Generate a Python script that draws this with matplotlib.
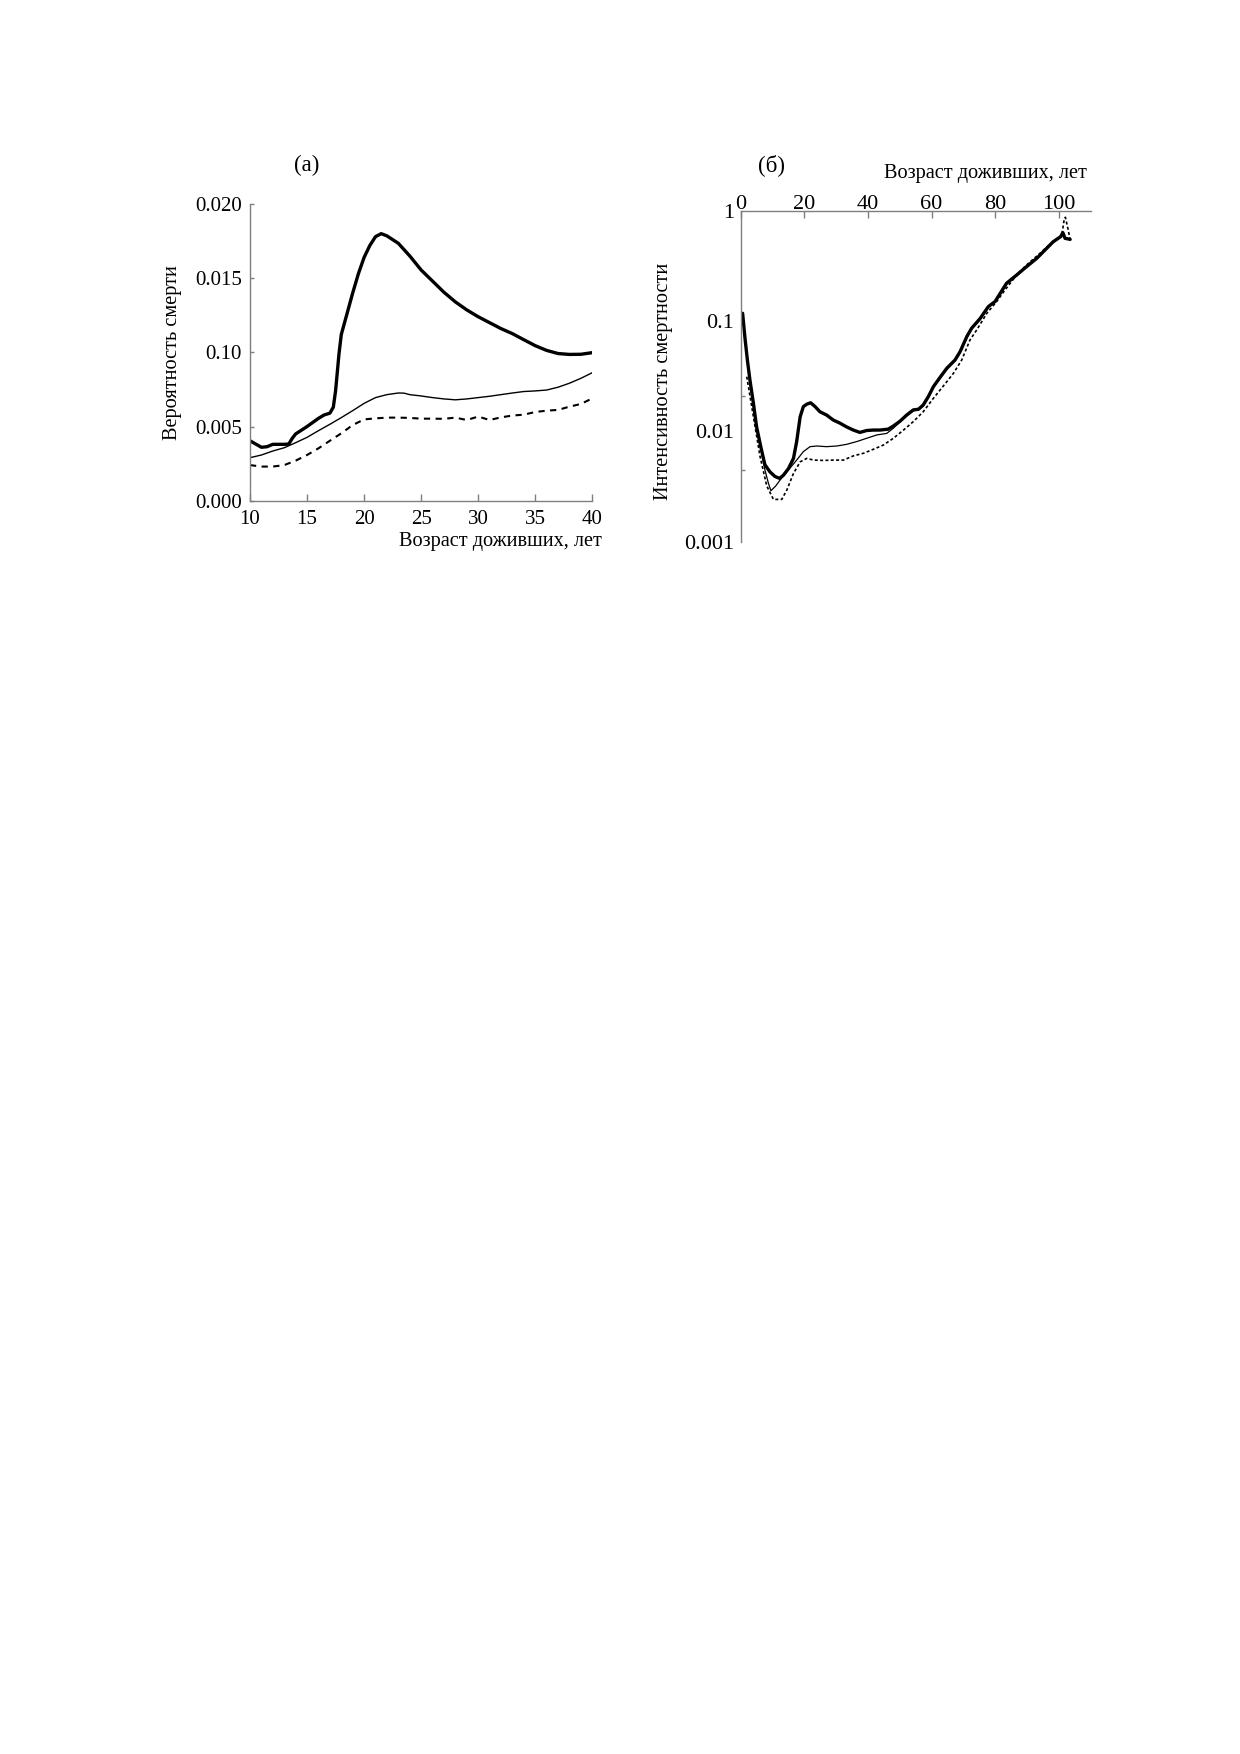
import matplotlib
matplotlib.use("Agg")
import matplotlib.pyplot as plt
from matplotlib.ticker import FixedLocator, NullFormatter

plt.rcParams['font.family'] = ['Liberation Serif', 'DejaVu Serif']
plt.rcParams['font.size'] = 14.6

# ---- panel (а): probability of death, ages 10-40 ----
age_a_thick = [10, 10.5, 11, 11.5, 12, 13, 13.4, 13.7, 14, 15, 16, 16.5, 17, 17.3, 17.5, 17.8,
               18, 18.5, 19, 19.5, 20, 20.5, 21, 21.5, 22, 23, 24, 25, 26, 27, 28, 29, 30,
               31, 32, 33, 34, 35, 36, 37, 38, 39, 40]
q_thick = [4.04, 3.82, 3.6, 3.64, 3.8, 3.8, 3.82, 4.2, 4.5, 5.0, 5.55, 5.78, 5.9, 6.3, 7.4, 9.9,
           11.2, 12.6, 14.0, 15.3, 16.4, 17.2, 17.8, 18.0, 17.85, 17.35, 16.5, 15.55, 14.8, 14.05,
           13.4, 12.86, 12.4, 12.0, 11.6, 11.26, 10.85, 10.45, 10.13, 9.92, 9.86, 9.87, 9.98]

age_a_thin = [10, 11, 12, 13, 14, 15, 16, 17, 18, 19, 20, 21, 22, 23, 23.5, 24, 25, 26, 27, 28,
              29, 30, 31, 32, 33, 34, 35, 36, 37, 38, 39, 40]
q_thin = [2.9, 3.08, 3.35, 3.57, 3.91, 4.27, 4.72, 5.15, 5.6, 6.07, 6.56, 6.95, 7.15, 7.26, 7.25,
          7.15, 7.06, 6.95, 6.86, 6.8, 6.86, 6.95, 7.04, 7.15, 7.26, 7.36, 7.4, 7.46, 7.65, 7.92,
          8.25, 8.63]

age_a_dash = [10, 11, 12, 13, 14, 15, 16, 17, 18, 19, 20, 21, 22, 23, 24, 25, 26, 27, 28, 29, 30,
              31, 32, 33, 34, 35, 36, 37, 38, 39, 40]
q_dash = [2.4, 2.3, 2.3, 2.4, 2.7, 3.08, 3.53, 4.04, 4.54, 5.1, 5.48, 5.55, 5.6, 5.6, 5.58, 5.53,
          5.53, 5.52, 5.6, 5.44, 5.67, 5.44, 5.62, 5.74, 5.8, 5.98, 6.07, 6.12, 6.34, 6.52, 6.9]

a_yticks = [0.0, 0.005, 0.010, 0.015, 0.020]
a_yticklabels = ["0.000", "0.005", "0.10", "0.015", "0.020"]
a_xticks = [10, 15, 20, 25, 30, 35, 40]

# ---- panel (б): mortality rate, log scale ----
age_b_thick = [0.6, 1.4, 2.1, 2.9, 4, 5, 6.3, 7.6, 9.2, 10.8, 12.2, 13.4, 15, 16.6, 17.6, 18.7,
               19.7, 20.8, 22, 23.4, 24.9, 27, 29.1, 31.2, 33.3, 35.4, 37.5, 39.6, 41.7, 43.8,
               46.4, 48, 50.1, 52.2, 54.3, 55.9, 57.4, 59, 60.6, 62.7, 64.8, 67.4, 69, 71.1, 72.6,
               75.3, 77.9, 80, 81.6, 83.6, 86.8, 89.9, 93.1, 95.7, 98.3, 100.6, 101.3, 102, 103.6]
mu_thick = [0.118, 0.068, 0.0445, 0.0293, 0.018, 0.011, 0.0073, 0.0050, 0.0043, 0.0039, 0.00376,
            0.0040, 0.0046, 0.0057, 0.0081, 0.0136, 0.0168, 0.0177, 0.0182, 0.0168, 0.0151,
            0.0141, 0.0127, 0.0119, 0.011, 0.0103, 0.0098, 0.0102, 0.0103, 0.0103, 0.0105, 0.0112,
            0.0124, 0.0141, 0.0157, 0.0159, 0.0174, 0.0207, 0.0255, 0.031, 0.0374, 0.0445, 0.053,
            0.0725, 0.0862, 0.106, 0.136, 0.151, 0.179, 0.221, 0.263, 0.313, 0.372, 0.443, 0.527,
            0.585, 0.636, 0.565, 0.553]

age_b_thin = [0.6, 1.4, 2.1, 2.9, 4, 5, 6.1, 7.6, 8.7, 9.5, 11, 12.4, 15, 17.6, 19.7, 21.8, 23.9,
              27, 30.2, 33.3, 36.5, 39.6, 42.8, 45.9, 48, 50.1, 52.2, 54.3, 55.9, 57.4, 59, 60.6,
              62.7, 64.8, 67.4, 69, 71.1, 72.6, 75.3, 77.9, 80, 81.6, 83.6, 86.8, 89.9, 93.1,
              95.7, 98.3, 100.6, 101.3, 102, 103.6]
mu_thin = [0.11, 0.065, 0.043, 0.028, 0.017, 0.0105, 0.0075, 0.0045, 0.0034, 0.0029, 0.0032,
           0.00363, 0.00447, 0.0055, 0.00656, 0.00728, 0.00738, 0.00728, 0.00738, 0.00764, 0.0081,
           0.00867, 0.0093, 0.0096, 0.0107, 0.0122, 0.0138, 0.0154, 0.0157, 0.017, 0.0202, 0.025,
           0.0303, 0.0366, 0.0437, 0.052, 0.071, 0.085, 0.104, 0.134, 0.149, 0.177, 0.218, 0.26,
           0.31, 0.368, 0.44, 0.52, 0.58, 0.63, 0.56, 0.55]

age_b_dash = [1.9, 4, 6.1, 8.2, 10.3, 12.9, 14.5, 16.6, 18.7, 20.8, 22.9, 26, 29.1, 32.3, 35.4,
              38.6, 41.7, 44.9, 48, 51.2, 54.3, 57.4, 60.6, 63.7, 66.9, 69.5, 72.1, 74.2, 77.4,
              80.5, 83.1, 86.8, 89.9, 94.1, 97.3, 99.9, 100.9, 101.7, 102.1, 103, 103.6]
mu_dash = [0.0314, 0.0136, 0.0059, 0.0032, 0.00242, 0.00242, 0.00294, 0.00417, 0.0053, 0.0057,
           0.0055, 0.00546, 0.0055, 0.0055, 0.006, 0.00634, 0.00689, 0.00754, 0.00867, 0.0103,
           0.0123, 0.0151, 0.02, 0.0258, 0.0337, 0.0445, 0.0676, 0.0832, 0.118, 0.151, 0.192,
           0.263, 0.324, 0.413, 0.502, 0.565, 0.585, 0.828, 0.877, 0.673, 0.546]

b_yticks = [1, 0.1, 0.01, 0.001]
b_yticklabels = ["1", "0.1", "0.01", "0.001"]
b_xticks = [0, 20, 40, 60, 80, 100]

W, H = 1240, 1754
fig = plt.figure(figsize=(W / 100, H / 100), dpi=100)
fig.patch.set_facecolor("white")

spine_col = "#7f7f7f"
ink = "black"


def px_axes(x0, x1, ytop, ybot):
    return fig.add_axes([x0 / W, 1 - ybot / H, (x1 - x0) / W, (ybot - ytop) / H])


# panel (а)
ax1 = px_axes(250, 592.3, 204, 500.7)
ax1.plot(age_a_thick, [v / 1000 for v in q_thick], color=ink, lw=2.4, solid_capstyle="round")
ax1.plot(age_a_thin, [v / 1000 for v in q_thin], color=ink, lw=1.0)
ax1.plot(age_a_dash, [v / 1000 for v in q_dash], color=ink, lw=1.5, dashes=(3, 2.6))
ax1.set_xlim(10, 40)
ax1.set_ylim(0, 0.020)
ax1.set_xticks(a_xticks)
ax1.set_yticks(a_yticks)
ax1.set_yticklabels(a_yticklabels)
for s in ("top", "right"):
    ax1.spines[s].set_visible(False)
for s in ("left", "bottom"):
    ax1.spines[s].set_color(spine_col)
    ax1.spines[s].set_linewidth(1.0)
ax1.tick_params(axis="x", direction="in", length=4.8, width=1.0, color=spine_col, pad=7,
                labelsize=15)
ax1.tick_params(axis="y", direction="in", length=3.2, width=1.0, color=spine_col, pad=6,
                labelsize=15)
ax1.text(0.166, 1.131, "(а)", transform=ax1.transAxes, ha="center", va="center", fontsize=16.5)
ax1.text(1.027, -0.138, "Возраст доживших, лет", transform=ax1.transAxes,
         ha="right", va="center")
ax1.text(-0.225, 0.498, "Вероятность смерти", transform=ax1.transAxes,
         ha="center", va="center", rotation=90)

# panel (б)
ax2 = px_axes(740.7, 1090.5, 211, 541.7)
ax2.set_yscale("log")
ax2.plot(age_b_thick, mu_thick, color=ink, lw=2.4, solid_capstyle="round")
ax2.plot(age_b_thin, mu_thin, color=ink, lw=0.9)
ax2.plot(age_b_dash, mu_dash, color=ink, lw=1.2, dashes=(1.8, 1.4))
ax2.set_xlim(0, 110)
ax2.set_ylim(0.001, 1)
ax2.xaxis.tick_top()
ax2.set_xticks(b_xticks)
ax2.yaxis.set_major_locator(FixedLocator(b_yticks))
ax2.set_yticklabels(b_yticklabels)
ax2.yaxis.set_minor_locator(FixedLocator([0.021, 0.0045]))
ax2.yaxis.set_minor_formatter(NullFormatter())
for s in ("bottom", "right"):
    ax2.spines[s].set_visible(False)
for s in ("left", "top"):
    ax2.spines[s].set_color(spine_col)
    ax2.spines[s].set_linewidth(1.0)
ax2.tick_params(axis="x", which="major", direction="in", length=4.8, width=1.0,
                color=spine_col, pad=-2.5, top=True, bottom=False, labelsize=16)
ax2.tick_params(axis="y", which="major", direction="in", length=0, pad=5, labelsize=16)
ax2.tick_params(axis="y", which="minor", direction="in", length=3.2, width=1.0, color=spine_col)
ax2.text(0.0886, 1.139, "(б)", transform=ax2.transAxes, ha="center", va="center", fontsize=16.5)
ax2.text(0.9886, 1.114, "Возраст доживших, лет", transform=ax2.transAxes,
         ha="right", va="center")
ax2.text(-0.221, 0.486, "Интенсивность смертности", transform=ax2.transAxes,
         ha="center", va="center", rotation=90)

fig.savefig("out.png", dpi=100, facecolor="white")
